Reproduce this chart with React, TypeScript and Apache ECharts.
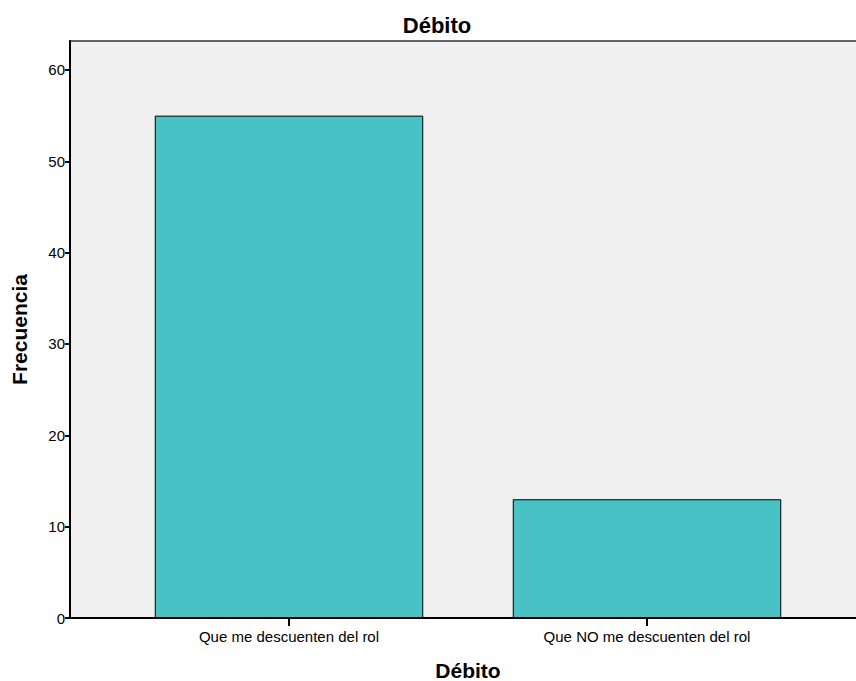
import React, { useEffect, useRef } from "react";
import * as echarts from "echarts";

const categories = ["Que me descuenten del rol", "Que NO me descuenten del rol"];
const frequencies = [55, 13];
const yTicks = [0, 10, 20, 30, 40, 50, 60];
const chartTitle = "Débito";
const xName = "Débito";
const yName = "Frecuencia";

export default function App() {
  const ref = useRef<HTMLDivElement>(null);
  useEffect(() => {
    document.body.style.margin = "0";
    const chart = echarts.init(ref.current!, null, { renderer: "svg" });
    const font = "'Liberation Sans', Arial, sans-serif";
    chart.setOption({
      animation: false,
      textStyle: { fontFamily: font },
      title: {
        text: chartTitle,
        left: 432,
        textAlign: "center",
        top: 9,
        textStyle: { fontFamily: font, fontSize: 22, fontWeight: "bold", color: "#000" },
      },
      graphic: [
        {
          type: "rect",
          z: -10,
          shape: { x: 70, y: 41, width: 800, height: 577 },
          style: { fill: "#F0F0F0", stroke: "#333", lineWidth: 1.5 },
          silent: true,
        },
        {
          type: "line",
          z: 100,
          shape: { x1: 70, y1: 618, x2: 856, y2: 618 },
          style: { stroke: "#000", lineWidth: 2 },
          silent: true,
        },
      ],
      grid: { left: 110, right: 30, top: 41, bottom: 63, containLabel: false, outerBoundsMode: "none" },
      xAxis: {
        type: "category",
        data: categories,
        name: xName,
        nameLocation: "middle",
        nameGap: 42,
        nameTextStyle: { fontFamily: font, fontSize: 21, fontWeight: "bold", color: "#000" },
        axisLine: { show: false },
        axisTick: { show: true, alignWithLabel: true, length: 8, lineStyle: { color: "#000", width: 2 } },
        axisLabel: { fontFamily: font, fontSize: 15, color: "#000", margin: 11 },
        splitLine: { show: false },
      },
      yAxis: {
        type: "value",
        min: 0,
        max: 63.17,
        interval: 10,
        offset: 40,
        name: yName,
        nameLocation: "middle",
        nameGap: 40,
        nameRotate: 90,
        nameTextStyle: { fontFamily: font, fontSize: 21, fontWeight: "bold", color: "#000" },
        axisLine: { show: true, lineStyle: { color: "#000", width: 2 } },
        axisTick: { show: true, length: 5, customValues: yTicks, lineStyle: { color: "#000", width: 2 } },
        axisLabel: { fontFamily: font, fontSize: 15, color: "#000", margin: 5, customValues: yTicks },
        splitLine: { show: false },
      },
      series: [
        {
          type: "bar",
          data: frequencies,
          barCategoryGap: "25%",
          itemStyle: { color: "#48C2C5", borderColor: "#000", borderWidth: 1 },
        },
      ],
    });
    return () => chart.dispose();
  }, []);
  return <div ref={ref} style={{ width: 856, height: 681 }} />;
}
